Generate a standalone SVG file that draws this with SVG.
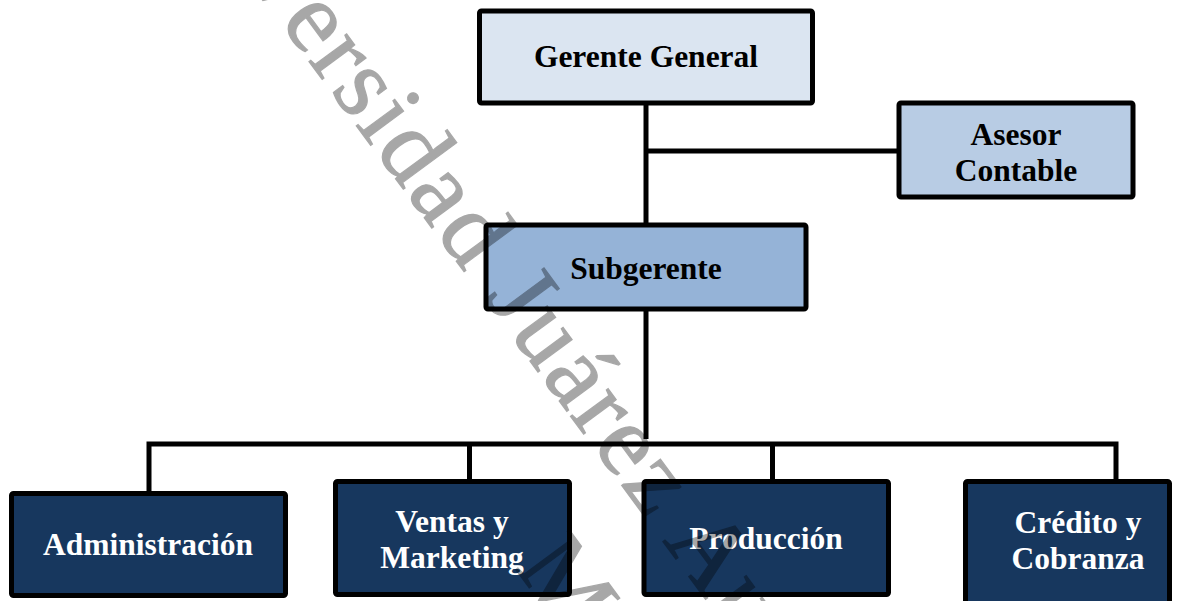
<svg xmlns="http://www.w3.org/2000/svg" width="1181" height="601" viewBox="0 0 1181 601">
  <style>
    .box { stroke: #000; stroke-width: 5; }
    .top { fill: #dbe5f1; }
    .adv { fill: #b8cce4; }
    .sub { fill: #95b3d7; }
    .dept { fill: #17375e; }
    .lbl { font-family: "Liberation Serif", "Times New Roman", serif; font-weight: bold; font-size: 31.5px; text-anchor: middle; }
    .dark { fill: #000; }
    .light { fill: #fff; }
    .wire { fill: none; stroke: #000; stroke-width: 5; stroke-linejoin: miter; }
    .wm { font-family: "Liberation Serif", "Times New Roman", serif; font-size: 102px; letter-spacing: 3px; fill: #000; stroke: #000; stroke-width: 1.2px; }
  </style>

  <rect width="1181" height="601" fill="#fff"/>

  <!-- connectors -->
  <g id="connectors" class="wire">
    <path d="M646,103 V225"/>
    <path d="M646,151 H899"/>
    <path d="M646,308 V439"/>
    <path d="M149,492 V444 H1116 V480"/>
    <path d="M469.5,444 V480"/>
    <path d="M772.5,444 V480"/>
  </g>

  <g id="gerente-general">
    <rect class="box top" x="479.5" y="11" width="333" height="92" rx="2"/>
    <text class="lbl dark" x="646" y="67">Gerente General</text>
  </g>

  <g id="asesor-contable">
    <rect class="box adv" x="899" y="103" width="234" height="94" rx="2"/>
    <text class="lbl dark" x="1016" y="145">Asesor</text>
    <text class="lbl dark" x="1016" y="181">Contable</text>
  </g>

  <g id="subgerente">
    <rect class="box sub" x="486" y="225" width="320" height="84" rx="2"/>
    <text class="lbl dark" x="646" y="279">Subgerente</text>
  </g>

  <g id="administracion">
    <rect class="box dept" x="11.5" y="493.5" width="274" height="102" rx="2"/>
    <text class="lbl light" x="148" y="555">Administración</text>
  </g>

  <g id="ventas-marketing">
    <rect class="box dept" x="335.5" y="481.5" width="234" height="113" rx="2"/>
    <text class="lbl light" x="452" y="532">Ventas y</text>
    <text class="lbl light" x="452" y="568">Marketing</text>
  </g>

  <g id="produccion">
    <rect class="box dept" x="644" y="481.5" width="244.5" height="113" rx="2"/>
    <text class="lbl light" x="766" y="549">Producción</text>
  </g>

  <g id="credito-cobranza">
    <rect class="box dept" x="965.5" y="481.5" width="204" height="125" rx="2"/>
    <text class="lbl light" x="1078" y="533">Crédito y</text>
    <text class="lbl light" x="1078" y="569">Cobranza</text>
  </g>

  <!-- diagonal watermark laid over the chart, translucent as a whole -->
  <g id="watermark" opacity="0.34" transform="translate(151,-152.7) rotate(53.6)">
    <text class="wm" x="0" y="0">Universidad Juárez Autónoma de Tabasco</text>
    <text class="wm" x="795" y="135">México</text>
  </g>
</svg>
